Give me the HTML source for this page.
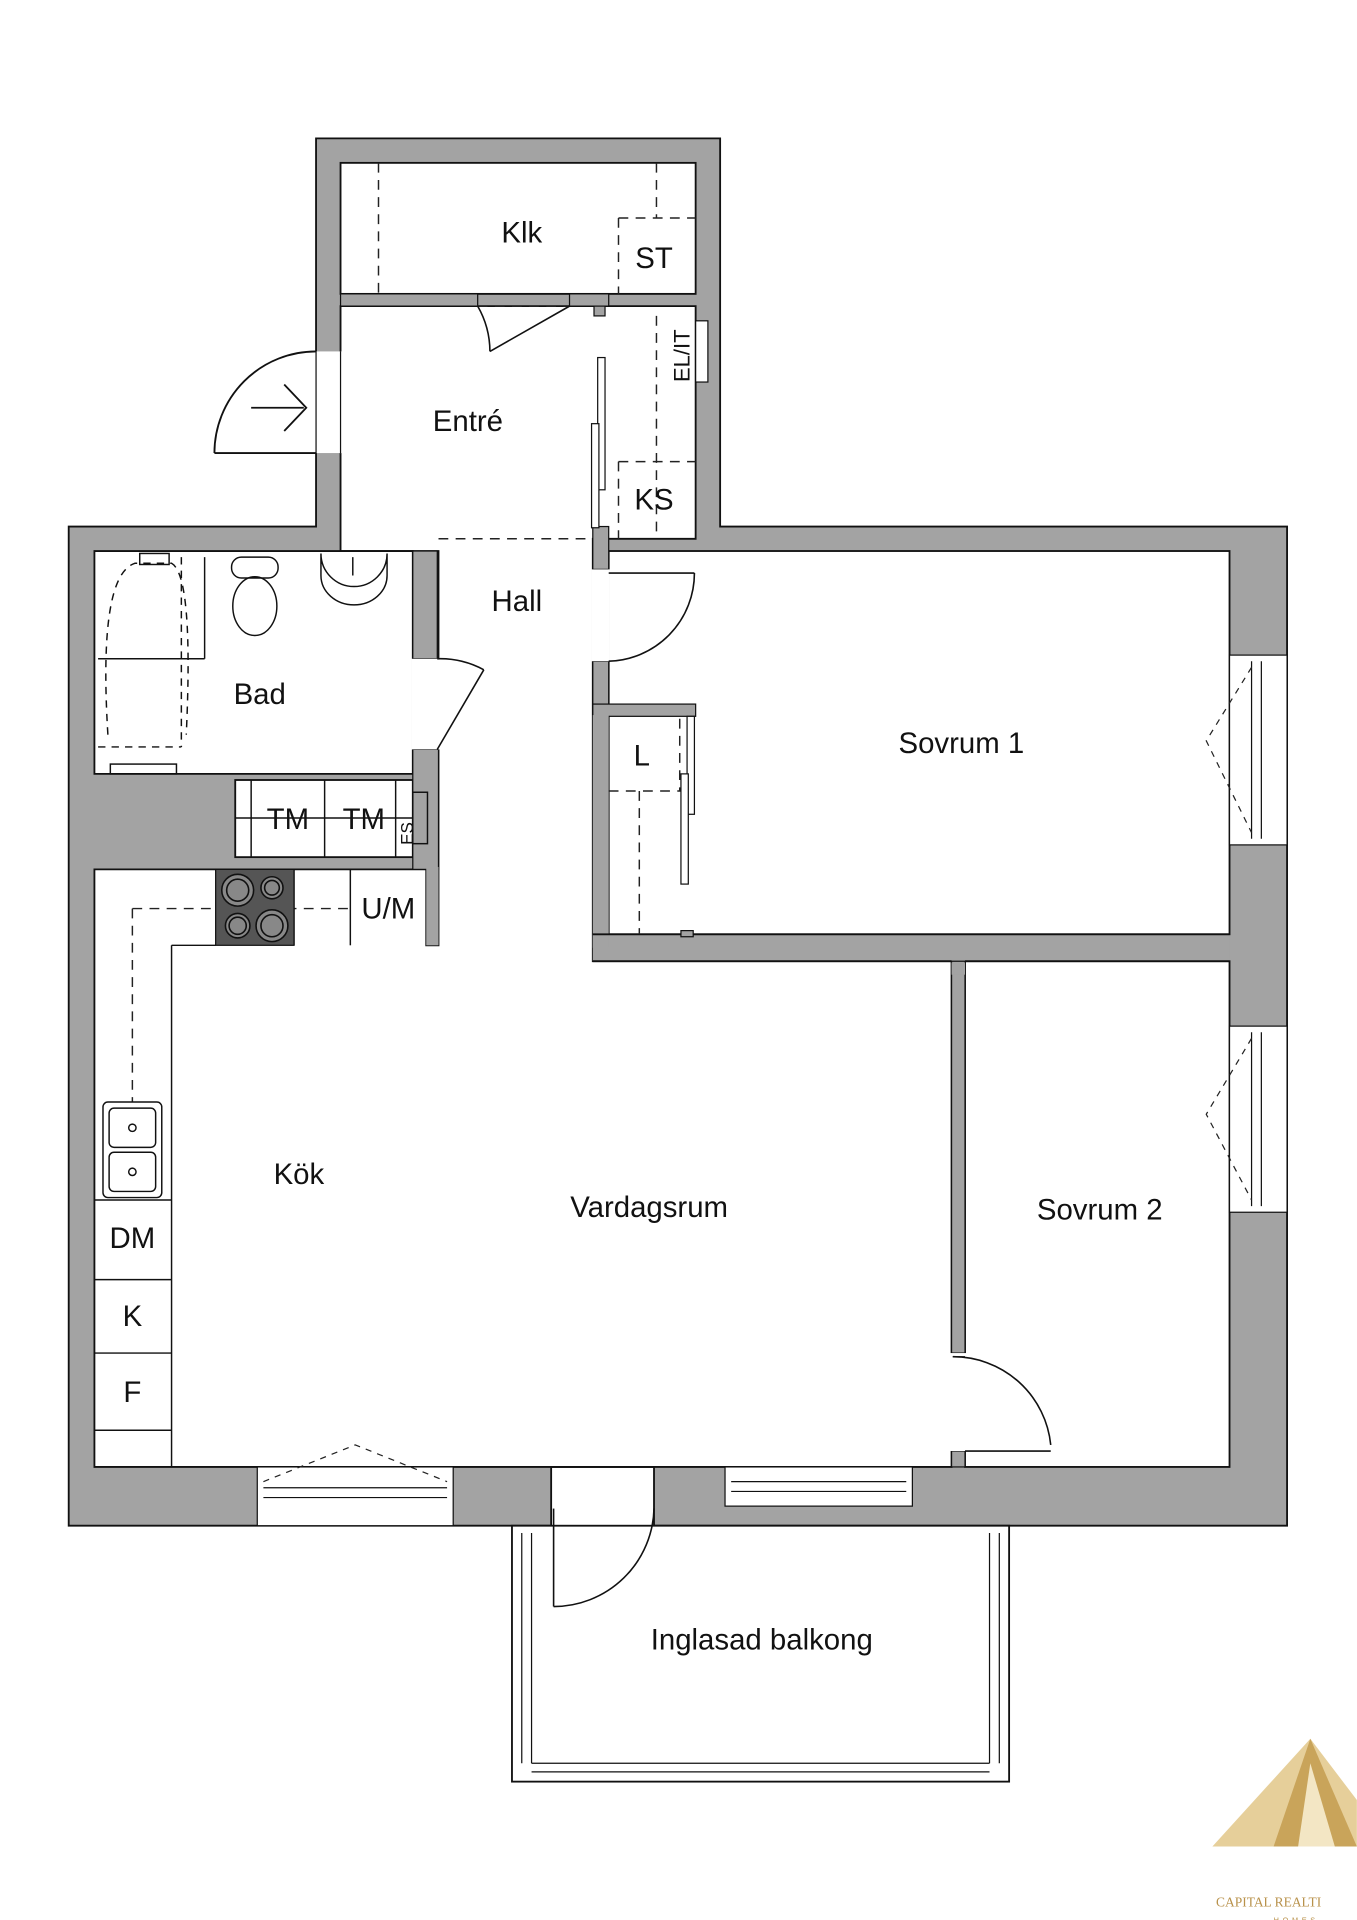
<!DOCTYPE html>
<html><head><meta charset="utf-8"><style>
html,body{margin:0;padding:0;background:#fff;}
svg{display:block;}
text{font-family:"Liberation Sans",sans-serif;fill:#111;}
</style></head><body>
<svg width="1357" height="1920" viewBox="0 0 1108 1568" xmlns="http://www.w3.org/2000/svg">
<rect width="1108" height="1568" fill="#fff"/>
<polygon points="258,113 588,113 588,430 1051,430 1051,1246 534,1246 534,1198 450,1198 450,1246 56,1246 56,430 258,430" fill="#a3a3a3" stroke="#111" stroke-width="1.5"/>
<g fill="#fff" stroke="#111" stroke-width="1.5">
<rect x="278" y="133" width="290" height="107"/>
<polygon points="278,250 568,250 568,440 484,440 484,785 777,785 777,1198 77,1198 77,710 348,710 348,772 358,772 358,450 278,450"/>
<polygon points="77,450 337,450 337,632 192,632 77,632"/>
<rect x="192" y="637" width="145" height="63"/>
<rect x="497" y="450" width="507" height="313"/>
<rect x="788" y="785" width="216" height="413"/>
<rect x="418" y="1246" width="406" height="209"/>
</g>
<rect x="278" y="240" width="112" height="10" fill="#a3a3a3" stroke="#111"/>
<rect x="465" y="240" width="32" height="10" fill="#a3a3a3" stroke="#111"/>
<line x1="497" y1="250" x2="568" y2="250" stroke="#111"/>
<rect x="485" y="250" width="9" height="8" fill="#a3a3a3" stroke="#111"/>
<rect x="484" y="430" width="13" height="35" fill="#a3a3a3" stroke="#111"/>
<rect x="484" y="540" width="13" height="223" fill="#a3a3a3" stroke="#111"/>
<rect x="484" y="763" width="520" height="22" fill="#a3a3a3"/>
<rect x="484" y="575" width="84" height="10" fill="#a3a3a3" stroke="#111"/>
<rect x="484" y="584" width="13" height="190" fill="#a3a3a3"/>
<rect x="777" y="785" width="11" height="320" fill="#a3a3a3" stroke="#111"/>
<rect x="777" y="1185" width="11" height="13" fill="#a3a3a3" stroke="#111"/>
<rect x="777" y="786" width="11" height="10" fill="#a3a3a3"/>
<line x1="484" y1="763" x2="1004" y2="763" stroke="#111" stroke-width="1.5"/>
<line x1="484" y1="785" x2="777" y2="785" stroke="#111" stroke-width="1.5"/>
<line x1="788" y1="785" x2="1004" y2="785" stroke="#111" stroke-width="1.5"/>
<rect x="337" y="450" width="20" height="88" fill="#a3a3a3" stroke="#111"/>
<rect x="337" y="612" width="21" height="98" fill="#a3a3a3" stroke="#111"/>
<rect x="348" y="708" width="10" height="64" fill="#a3a3a3"/>
<rect x="257" y="287" width="22" height="83" fill="#fff"/>
<line x1="258" y1="287" x2="258" y2="370" stroke="#111"/>
<line x1="278" y1="287" x2="278" y2="370" stroke="#111"/>
<path d="M175,370 A83,83 0 0 1 258,287" fill="none" stroke="#111" stroke-width="1.5"/>
<line x1="175" y1="370" x2="258" y2="370" stroke="#111" stroke-width="1.5"/>
<path d="M205,333 H248 M232,314 L250,333 L232,352" fill="none" stroke="#111" stroke-width="1.5"/>
<g stroke="#222" stroke-dasharray="8,6" fill="none" stroke-width="1.2">
<line x1="309" y1="133" x2="309" y2="240"/>
<line x1="536" y1="133" x2="536" y2="178"/>
<line x1="505" y1="178" x2="568" y2="178"/>
<line x1="505" y1="178" x2="505" y2="240"/>
<line x1="390" y1="250" x2="465" y2="250"/>
<line x1="536" y1="258" x2="536" y2="440"/>
<line x1="505" y1="377" x2="568" y2="377"/>
<line x1="505" y1="377" x2="505" y2="440"/>
<line x1="358" y1="440" x2="484" y2="440"/>
<line x1="497" y1="646" x2="558" y2="646"/>
<line x1="522" y1="646" x2="522" y2="763"/>
<line x1="555" y1="587" x2="555" y2="646"/>
<line x1="108" y1="742" x2="286" y2="742"/>
<line x1="108" y1="742" x2="108" y2="900"/>
</g>
<rect x="488" y="292" width="6" height="108" fill="#fff" stroke="#111"/>
<rect x="483" y="346" width="6" height="85" fill="#fff" stroke="#111"/>
<rect x="568" y="262" width="10" height="50" fill="#fff" stroke="#111"/>
<rect x="561" y="585" width="6" height="80" fill="#fff" stroke="#111"/>
<rect x="556" y="632" width="6" height="90" fill="#fff" stroke="#111"/>
<rect x="556" y="760" width="10" height="5" fill="#a3a3a3" stroke="#111"/>
<path d="M465,250 L400,287" stroke="#111" fill="none" stroke-width="1.3"/>
<path d="M400,287 A75,75 0 0 0 390,250" stroke="#111" fill="none" stroke-width="1.3"/>
<rect x="483" y="465" width="15" height="75" fill="#fff"/>
<path d="M497,540 A72,72 0 0 0 567,468" stroke="#111" fill="none" stroke-width="1.3"/>
<line x1="497" y1="468" x2="567" y2="468" stroke="#111" stroke-width="1.3"/>
<rect x="336" y="538" width="23" height="74" fill="#fff"/>
<line x1="357" y1="612" x2="395" y2="547" stroke="#111" stroke-width="1.3"/>
<path d="M395,547 A75,75 0 0 0 357,538" stroke="#111" fill="none" stroke-width="1.3"/>
<rect x="776" y="1105" width="13" height="80" fill="#fff"/>
<path d="M778,1108 A80,80 0 0 1 858,1180" stroke="#111" fill="none" stroke-width="1.3"/>
<line x1="778" y1="1108" x2="788" y2="1108" stroke="#111"/>
<line x1="788" y1="1185" x2="858" y2="1185" stroke="#111" stroke-width="1.3"/>
<path d="M534,1232 A82,82 0 0 1 452,1312" stroke="#111" fill="none" stroke-width="1.3"/>
<line x1="452" y1="1232" x2="452" y2="1312" stroke="#111" stroke-width="1.3"/>
<g fill="none" stroke="#111" stroke-width="1">
<line x1="426" y1="1252" x2="426" y2="1440"/>
<line x1="434" y1="1252" x2="434" y2="1440"/>
<line x1="808" y1="1252" x2="808" y2="1440"/>
<line x1="816" y1="1252" x2="816" y2="1440"/>
<line x1="434" y1="1440" x2="808" y2="1440"/>
<line x1="434" y1="1447" x2="808" y2="1447"/>
</g>
<g fill="#fff" stroke="#111" stroke-width="1">
<rect x="1004" y="535" width="47" height="155"/>
<rect x="1004" y="838" width="47" height="152"/>
<rect x="210" y="1198" width="160" height="48"/>
<rect x="592" y="1198" width="153" height="32"/>
</g>
<g fill="none" stroke="#111" stroke-width="1">
<line x1="1022" y1="540" x2="1022" y2="685"/><line x1="1030" y1="540" x2="1030" y2="685"/>
<line x1="1022" y1="843" x2="1022" y2="985"/><line x1="1030" y1="843" x2="1030" y2="985"/>
<line x1="215" y1="1215" x2="365" y2="1215"/><line x1="215" y1="1223" x2="365" y2="1223"/>
<line x1="597" y1="1210" x2="740" y2="1210"/><line x1="597" y1="1218" x2="740" y2="1218"/>
</g>
<g fill="none" stroke="#222" stroke-width="1" stroke-dasharray="5,5">
<path d="M1022,545 L985,605 L1022,680"/><path d="M1022,848 L985,910 L1022,980"/>
<path d="M215,1210 L290,1180 L365,1210"/>
</g>
<g fill="none" stroke="#111" stroke-width="1.2">
<path d="M88,600 Q80,470 110,460 L140,460 Q158,470 152,600" stroke-dasharray="6,5"/>
<line x1="148" y1="455" x2="148" y2="610" stroke-dasharray="6,5"/>
<line x1="80" y1="610" x2="148" y2="610" stroke-dasharray="6,5"/>
<line x1="167" y1="455" x2="167" y2="538"/>
<line x1="80" y1="538" x2="167" y2="538"/>
<rect x="90" y="624" width="54" height="8"/>
<rect x="114" y="452" width="24" height="9"/>
<ellipse cx="208" cy="495" rx="18" ry="24"/>
<rect x="189" y="455" width="38" height="17" rx="8"/>
<path d="M262,452 A27,27 0 0 0 316,452 L316,470 A27,24 0 0 1 262,470 Z"/>
<line x1="288" y1="455" x2="288" y2="470"/>
<line x1="205" y1="637" x2="205" y2="700"/>
<line x1="265" y1="637" x2="265" y2="700"/>
<line x1="323" y1="637" x2="323" y2="700"/>
<rect x="337" y="647" width="12" height="42"/>
<line x1="192" y1="668" x2="337" y2="668"/>
<line x1="140" y1="772" x2="140" y2="1198"/>
<line x1="240" y1="710" x2="240" y2="772"/>
<line x1="286" y1="710" x2="286" y2="772"/>
<line x1="140" y1="772" x2="176" y2="772"/>
<line x1="77" y1="980" x2="140" y2="980"/>
<line x1="77" y1="1045" x2="140" y2="1045"/>
<line x1="77" y1="1105" x2="140" y2="1105"/>
<line x1="77" y1="1168" x2="140" y2="1168"/>
<rect x="84" y="900" width="48" height="78" rx="4"/>
<rect x="89" y="905" width="38" height="32" rx="4"/>
<rect x="89" y="941" width="38" height="32" rx="4"/>
<circle cx="108" cy="921" r="3"/><circle cx="108" cy="957" r="3"/>
</g>
<rect x="176" y="710" width="64" height="62" fill="#555" stroke="#111"/>
<g fill="#888" stroke="#111" stroke-width="1.3">
<circle cx="194" cy="727" r="13"/><circle cx="194" cy="727" r="9"/>
<circle cx="222" cy="725" r="9"/><circle cx="222" cy="725" r="6"/>
<circle cx="194" cy="756" r="10"/><circle cx="194" cy="756" r="7"/>
<circle cx="222" cy="756" r="13"/><circle cx="222" cy="756" r="9"/>
</g>
<g font-size="24">
<text x="426" y="198" text-anchor="middle">Klk</text>
<text x="534" y="219" text-anchor="middle">ST</text>
<text x="382" y="352" text-anchor="middle">Entré</text>
<text x="534" y="416" text-anchor="middle">KS</text>
<text x="422" y="499" text-anchor="middle">Hall</text>
<text x="212" y="575" text-anchor="middle">Bad</text>
<text x="785" y="615" text-anchor="middle">Sovrum 1</text>
<text x="524" y="625" text-anchor="middle">L</text>
<text x="235" y="677" text-anchor="middle">TM</text>
<text x="297" y="677" text-anchor="middle">TM</text>
<text x="317" y="750" text-anchor="middle">U/M</text>
<text x="244" y="967" text-anchor="middle">Kök</text>
<text x="530" y="994" text-anchor="middle">Vardagsrum</text>
<text x="898" y="996" text-anchor="middle">Sovrum 2</text>
<text x="108" y="1019" text-anchor="middle">DM</text>
<text x="108" y="1083" text-anchor="middle">K</text>
<text x="108" y="1145" text-anchor="middle">F</text>
<text x="622" y="1347" text-anchor="middle">Inglasad balkong</text>
</g>
<text font-size="18" transform="translate(563,312) rotate(-90)">EL/IT</text>
<text font-size="14" transform="translate(337,690) rotate(-90)">ES</text>
<g>
<polygon points="1070,1420 990,1508 1108,1508 1108,1470" fill="#e6cf9a"/>
<polygon points="1070,1420 1040,1508 1108,1508" fill="#c9a45a"/>
<polygon points="1070,1440 1060,1508 1090,1508" fill="#f3e6c4"/>
<text x="993" y="1557" font-size="11" style="font-family:'Liberation Serif',serif;fill:#b8914a">CAPITAL REALTI</text>
<text x="1040" y="1570" font-size="6" style="fill:#b8914a" letter-spacing="3">HOMES</text>
</g>
</svg>
</body></html>
